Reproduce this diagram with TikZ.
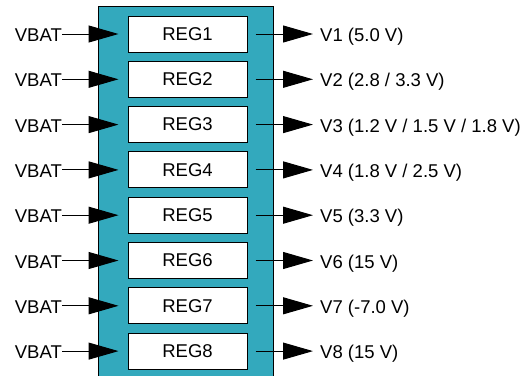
\documentclass[tikz,border=0pt]{standalone}
\usepackage{fontspec}
\setmainfont{Liberation Sans}
\usetikzlibrary{arrows.meta}
\definecolor{teal1}{HTML}{33A9BD}
\begin{document}
\begin{tikzpicture}[x=1pt,y=-1pt,
  regbox/.style={draw=black,fill=white,line width=1pt,minimum width=119pt,minimum height=36pt,inner sep=0pt,font=\fontsize{18.5}{22}\selectfont},
  lbl/.style={inner sep=0pt,font=\fontsize{18.5}{22}\selectfont},
  conn/.style={line width=1pt,-{Triangle[length=30pt,width=17pt]}}]
\useasboundingbox (0,0) rectangle (530,375);
\clip (0,0) rectangle (530,375);
\fill[white] (0,0) rectangle (530,375);
\draw[fill=teal1,line width=1pt] (98,6) rectangle (273,385);
\foreach \i/\v in {1/{V1 (5.0 V)},2/{V2 (2.8 / 3.3 V)},3/{V3 (1.2 V / 1.5 V / 1.8 V)},4/{V4 (1.8 V / 2.5 V)},5/{V5 (3.3 V)},6/{V6 (15 V)},7/{V7 (-7.0 V)},8/{V8 (15 V)}}{
  \pgfmathsetmacro{\yy}{33+45.3*(\i-1)}
  \pgfmathsetmacro{\yb}{\yy+8.5}
  \node[regbox] (reg\i) at (187.5,\yy+1) {REG\i};
  \node[lbl,anchor=base east] (in\i) at (62,\yb) {VBAT};
  \node[lbl,anchor=base west] (out\i) at (320,\yb) {\v};
  \draw[conn,shorten >=9pt] (in\i.east |- reg\i.west) -- (reg\i.west);
  \draw[conn,shorten <=8pt,shorten >=7pt] (reg\i.east) -- (out\i.west |- reg\i.east);
}
\end{tikzpicture}
\end{document}
